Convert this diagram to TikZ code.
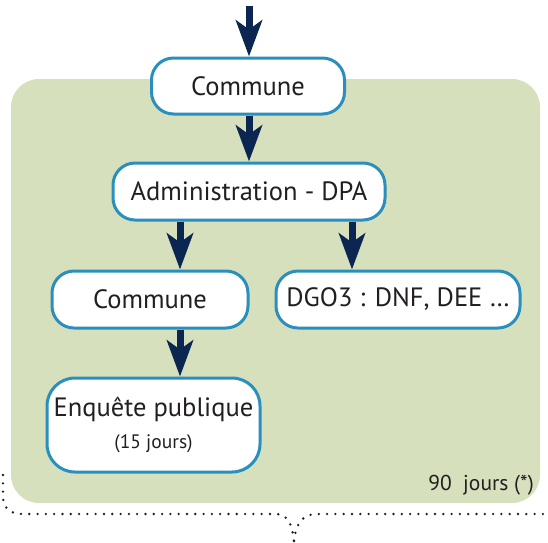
\documentclass[tikz,border=0pt]{standalone}
\usepackage{fontspec}
\setmainfont{PT Sans}
\usetikzlibrary{arrows.meta}
\definecolor{bgreen}{HTML}{D6E0BD}
\definecolor{bblue}{HTML}{2A8FBD}
\definecolor{navy}{HTML}{0B2650}
\definecolor{txt}{HTML}{231F20}
\tikzset{
  box/.style={draw=bblue, line width=3pt, fill=white, rounded corners=22pt, inner sep=0pt, text=txt, font=\fontsize{26.5}{30}\selectfont},
  arr/.style={draw=navy, line width=7pt, -{Stealth[length=36pt, width=26pt, inset=9pt]}},
  brace/.style={draw=txt, line width=2.6pt, line cap=round, dash pattern=on 0pt off 8.3pt}
}
\begin{document}
\begin{tikzpicture}[x=1pt,y=-1pt]
\useasboundingbox (0,0) rectangle (548,542);
\fill[bgreen, rounded corners=28pt] (11,79) rectangle (540,503);
\node[box, minimum width=193pt, minimum height=56pt] (c1) at (248,86) {Commune};
\node[box, minimum width=272pt, minimum height=57pt] (adm) at (249,191.5) {Administration - DPA};
\node[box, minimum width=196pt, minimum height=57pt] (c2) at (150,299.5) {Commune};
\node[box, minimum width=244pt, minimum height=57pt] (dgo) at (398,299.5) {DGO3 : DNF, DEE \ldots};
\node[box, minimum width=213pt, minimum height=94pt, rounded corners=28pt, align=center] (enq) at (153.5,425) {Enquête publique\\[2pt]{\fontsize{19.5}{22}\selectfont (15 jours)}};
\node[text=txt, font=\fontsize{21.5}{24}\selectfont, anchor=east, inner sep=0pt] (dur) at (534,485) {90\ \ jours (*)};
\coordinate (top) at (249,6);
\coordinate (colL) at (180,0);
\coordinate (colR) at (352,0);
\draw[arr] (top) -- (top |- c1.north);
\draw[arr] (c1.south -| top) -- (adm.north -| top);
\draw[arr] (adm.south -| colL) -- (c2.north -| colL);
\draw[arr] (adm.south -| colR) -- (dgo.north -| colR);
\draw[arr] (c2.south -| colL) -- (enq.north -| colL);
\coordinate (bl) at (3,475);
\coordinate (bt) at (294,541);
\coordinate (br) at (548,514);
\draw[brace] (bl) -- (3,496) .. controls (3,508) and (10,514) .. (22,514) -- (277,514) .. controls (288,515) and (292,524) .. (bt);
\draw[brace] (bt) .. controls (296,524) and (302,514) .. (317,514) -- (br);
\end{tikzpicture}
\end{document}
